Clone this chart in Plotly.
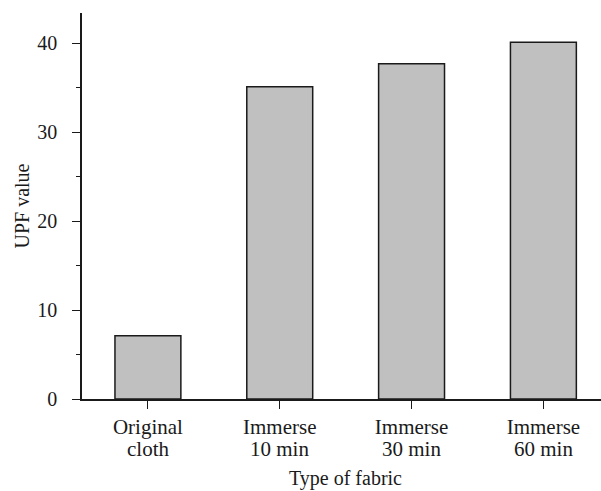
import plotly.graph_objects as go

category_line1 = ["Original", "Immerse", "Immerse", "Immerse"]
category_line2 = ["cloth", "10 min", "30 min", "60 min"]
upf_values = [7.1, 35.1, 37.7, 40.1]
y_ticks = [0, 10, 20, 30, 40]
y_minor_ticks = [5, 15, 25, 35]

FONT = "Liberation Serif"
INK = "#1a1a1a"

xs = list(range(len(category_line1)))

fig = go.Figure()
fig.add_trace(go.Bar(
    x=xs, y=upf_values, width=0.5,
    marker=dict(color="#c0c0c0", line=dict(color=INK, width=1.5)),
    showlegend=False, hoverinfo="skip",
))

fig.update_layout(
    width=601, height=491,
    margin=dict(l=82, r=0, t=13, b=92, autoexpand=False),
    paper_bgcolor="white", plot_bgcolor="white",
    font=dict(family=FONT, size=20, color=INK),
)

fig.update_xaxes(
    range=[-0.5, 3.437], automargin=False,
    tickmode="array", tickvals=xs, ticktext=category_line1,
    ticks="outside", ticklen=8, tickwidth=1.4, tickcolor=INK,
    showline=True, linewidth=1.5, linecolor=INK,
    showgrid=False, zeroline=False,
    tickfont=dict(family=FONT, size=21, color=INK),
)

for x, t in zip(xs, category_line2):
    fig.add_annotation(
        x=x, xref="x", y=0, yref="paper", yshift=-36,
        text=t, showarrow=False, yanchor="top",
        font=dict(family=FONT, size=21, color=INK),
    )

fig.update_yaxes(
    range=[0, 43.4], automargin=False,
    tickmode="array", tickvals=y_ticks,
    ticks="outside", ticklen=8, tickwidth=1.4, tickcolor=INK,
    minor=dict(tickmode="array", tickvals=y_minor_ticks, ticks="outside", ticklen=4, tickwidth=1.4, tickcolor=INK),
    showline=True, linewidth=1.5, linecolor=INK,
    showgrid=False, zeroline=False,
    ticklabelstandoff=11,
    tickfont=dict(family=FONT, size=20, color=INK),
    title=dict(text="UPF value", font=dict(family=FONT, size=20, color=INK), standoff=2),
)

fig.add_annotation(
    x=1.5, xref="x", y=0, yref="paper", yshift=-66,
    text="Type of fabric", showarrow=False, yanchor="top",
    font=dict(family=FONT, size=20, color=INK),
)

fig.write_html("out.html", config={"displayModeBar": False},
               post_script="document.body.style.margin='0';")
